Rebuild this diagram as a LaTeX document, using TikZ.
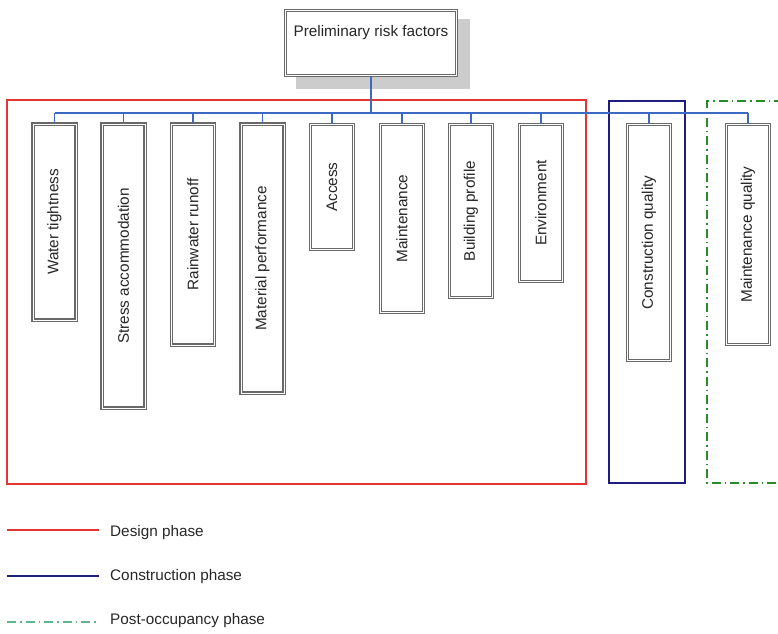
\documentclass[tikz,border=0pt]{standalone}
\usepackage{fontspec}
\setmainfont{Liberation Sans}
\usepackage{graphicx}
\definecolor{redph}{RGB}{228,52,52}
\definecolor{blueph}{RGB}{30,30,125}
\definecolor{greenph}{RGB}{40,140,40}
\definecolor{greenleg}{RGB}{95,180,145}
\definecolor{conn}{RGB}{60,105,195}
\definecolor{boxgray}{RGB}{105,105,105}
\tikzset{
  fbox/.style={draw=boxgray, line width=1.3pt, double=white, double distance=1pt, fill=white,
    minimum width=43pt, inner sep=0pt, font=\fontsize{15.3}{17}\selectfont, text=black!85},
  conline/.style={draw=conn, line width=1.1pt},
  legtext/.style={anchor=west, font=\fontsize{15.3}{17}\selectfont, text=black!85, inner sep=0pt}
}
\begin{document}
\begin{tikzpicture}[x=1pt,y=-1pt]
\useasboundingbox (0,0) rectangle (778,633);
\clip (0,0) rectangle (778,633);
% phase frames
\draw[redph, line width=1.5pt] (7,100) rectangle (586,484);
\draw[blueph, line width=1.5pt] (609,101) rectangle (685,483);
\draw[greenph, line width=1.5pt, dash pattern=on 9pt off 4pt on 1.5pt off 4pt] (820,101) -- (707,101) -- (707,483) -- (820,483);
% top node with shadow
\fill[gray!40] (296,19) rectangle (470,89);
\node[fbox, minimum width=171pt, minimum height=65pt] (top) at (371,43) {};
\node[font=\fontsize{15.3}{17}\selectfont, text=black!85, inner sep=0pt] (toplbl) at (371,33) {Preliminary risk factors};
% bus
\coordinate (busL) at (54.5,113);
\coordinate (busR) at (748,113);
\draw[conline] (top.south) -- (top.south |- busL);
\draw[conline] (busL) -- (busR);
% children
\node[fbox, minimum height=196pt] (wt) at (54.5,222) {\rotatebox{90}{Water tightness}};
\node[fbox, minimum height=284pt] (sa) at (123.5,266) {\rotatebox{90}{Stress accommodation}};
\node[fbox, minimum height=221pt] (rr) at (193,234.5) {\rotatebox{90}{Rainwater runoff}};
\node[fbox, minimum height=269pt] (mp) at (262.5,258.5) {\rotatebox{90}{Material performance}};
\node[fbox, minimum height=125pt] (ac) at (332,187) {\rotatebox{90}{Access}};
\node[fbox, minimum height=188pt] (mn) at (402,218.5) {\rotatebox{90}{Maintenance}};
\node[fbox, minimum height=173pt] (bp) at (471,211) {\rotatebox{90}{Building profile}};
\node[fbox, minimum height=157pt] (en) at (541,203) {\rotatebox{90}{Environment}};
\node[fbox, minimum height=236pt] (cq) at (649,242.5) {\rotatebox{90}{Construction quality}};
\node[fbox, minimum height=220pt] (mq) at (748,234.5) {\rotatebox{90}{Maintenance quality}};
\foreach \n in {wt,sa,rr,mp,ac,mn,bp,en,cq,mq}{
  \draw[conline] (\n.north) -- (\n.north |- busL);
}
% legend
\coordinate (l1a) at (7,530); \coordinate (l1b) at (99,530);
\coordinate (l2a) at (7,576); \coordinate (l2b) at (99,576);
\coordinate (l3a) at (7,622); \coordinate (l3b) at (99,622);
\draw[redph, line width=1.3pt] (l1a) -- (l1b);
\draw[blueph, line width=1.3pt] (l2a) -- (l2b);
\draw[greenleg, line width=1.3pt, dash pattern=on 9pt off 4pt on 1.5pt off 4pt] (l3a) -- (l3b);
\node[legtext] (t1) at (110,533) {Design phase};
\node[legtext] (t2) at (110,577) {Construction phase};
\node[legtext] (t3) at (110,621) {Post-occupancy phase};
\end{tikzpicture}
\end{document}
